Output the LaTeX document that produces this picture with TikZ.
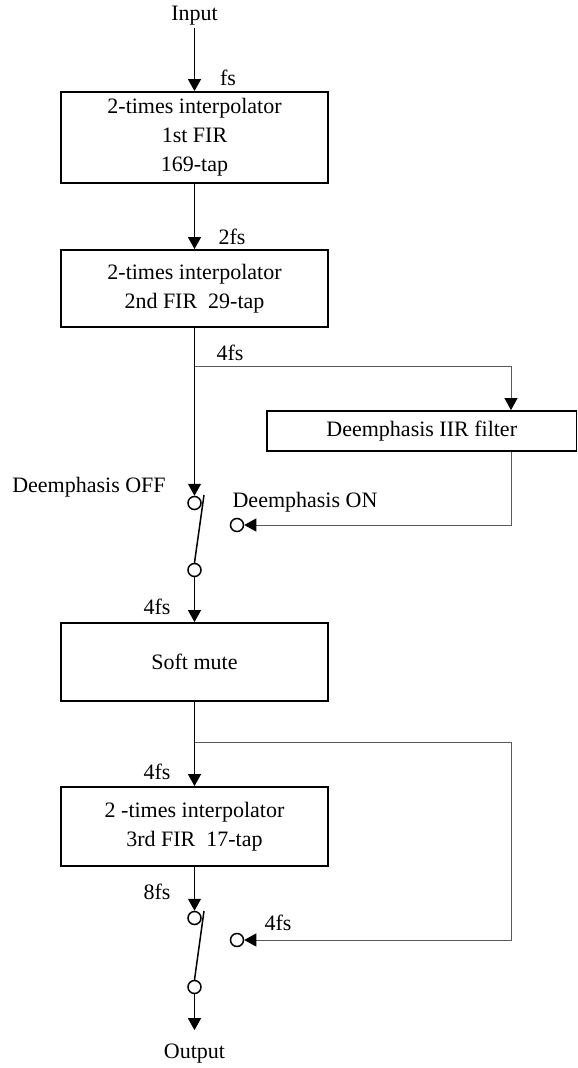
\documentclass[tikz,border=0pt]{standalone}
\usepackage{fontspec}
\setmainfont{Liberation Serif}
\usetikzlibrary{arrows.meta,calc}
\begin{document}
\begin{tikzpicture}[x=1pt,y=-1pt,
  font=\fontsize{22pt}{29pt}\selectfont,
  box/.style={draw=black,line width=1.8pt,align=center,inner sep=0pt},
  lbl/.style={inner sep=2pt},
  sw/.style={circle,draw=black,fill=white,line width=1.5pt,minimum size=13pt,inner sep=0pt},
  arr/.style={line width=1.2pt,-{Triangle[width=13pt,length=12pt]}},
  fbarr/.style={draw=black!65,line width=1pt,-{Triangle[width=13pt,length=12pt,color=black]}},
  blade/.style={line width=1.5pt}]
\useasboundingbox (0,0) rectangle (578,1068);
% blocks
\node[lbl] (in) at (194.5,16) {Input};
\node[box,minimum width=267pt,minimum height=91pt] (b1) at (194.5,137.5) {2-times interpolator\\1st FIR\\169-tap};
\node[box,minimum width=267pt,minimum height=77pt] (b2) at (194.5,288.5) {2-times interpolator\\2nd FIR\ \ 29-tap};
\node[box,minimum width=309.5pt,minimum height=40pt] (deem) at (421.75,431) {Deemphasis IIR filter};
\node[sw] (s1a) at (194.5,503) {};
\node[sw] (s1b) at (194.5,570) {};
\node[sw] (s1c) at (237,525) {};
\node[box,minimum width=267pt,minimum height=78pt] (soft) at (194.5,662) {Soft mute};
\node[box,minimum width=267pt,minimum height=79pt] (b3) at (194.5,826.5) {2 -times interpolator\\3rd FIR\ \ 17-tap};
\node[sw] (s2a) at (194.5,918) {};
\node[sw] (s2b) at (194.5,987) {};
\node[sw] (s2c) at (237,940) {};
\node[lbl] (out) at (194.5,1054) {Output};
% labels
\node[lbl] (lfs) at (228,78) {fs};
\node[lbl] (l2fs) at (232,237) {2fs};
\node[lbl] (l4fsa) at (230,353) {4fs};
\node[lbl] (loff) at (89,487) {Deemphasis OFF};
\node[lbl] (lon) at (305,502) {Deemphasis ON};
\node[lbl] (l4fsb) at (157,607) {4fs};
\node[lbl] (l4fsc) at (157,772) {4fs};
\node[lbl] (l8fs) at (157,892) {8fs};
\node[lbl] (l4fsd) at (278,923) {4fs};
% coordinates
\coordinate (br1) at (194.5,366);
\coordinate (dx) at (511,0);
\coordinate (br2) at (194.5,742);
\coordinate (r2) at (511,742);
% main path
\draw[arr] (in) -- (b1);
\draw[arr] (b1) -- (b2);
\draw[arr] (b2) -- (s1a);
\draw[arr] (s1b) -- (soft);
\draw[arr] (soft) -- (b3);
\draw[arr] (b3) -- (s2a);
\draw[arr,shorten >=12pt] (s2b) -- (out);
% switches
\draw[blade] ($(s1a.center)+(9.5,-8)$) -- (s1b.north);
\draw[blade] ($(s2a.center)+(9.5,-7)$) -- (s2b.north);
% deemphasis branch
\draw[fbarr] (br1) -| (deem.north -| dx);
\draw[fbarr] (deem.south -| dx) |- (s1c.east);
% 4fs bypass
\draw[fbarr] (br2) -- (r2) |- (s2c.east);
\end{tikzpicture}
\end{document}
